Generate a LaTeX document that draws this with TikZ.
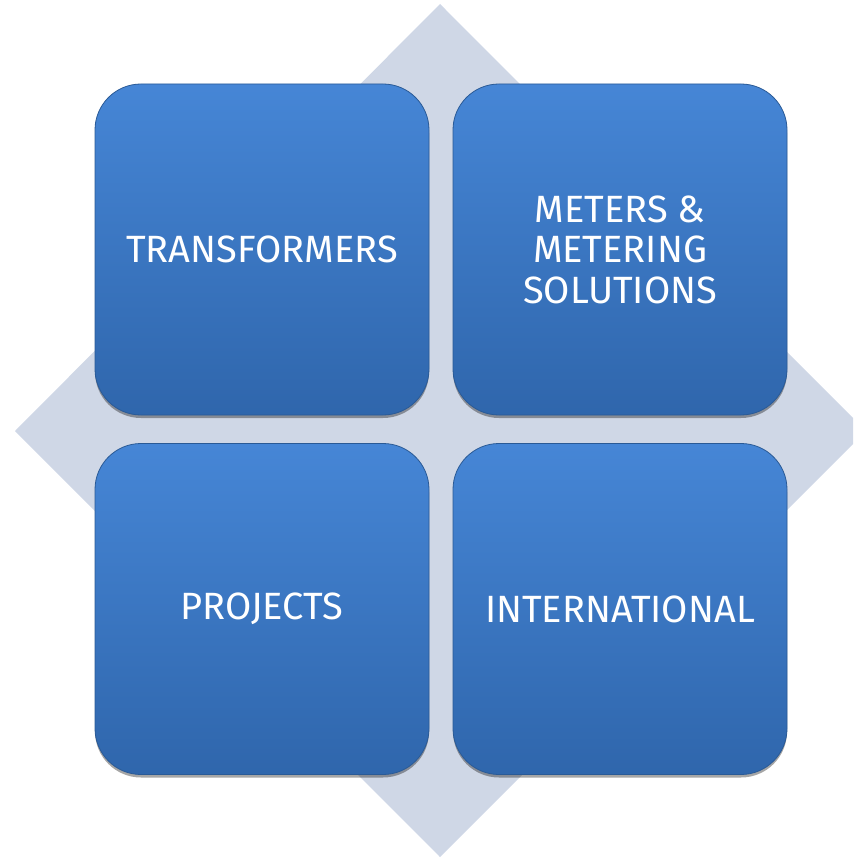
\documentclass[tikz,border=0pt]{standalone}
\usepackage{fontspec}
\setmainfont{Fira Sans}
\usetikzlibrary{shadows}

\definecolor{diamondgray}{HTML}{CFD7E6}
\definecolor{boxtop}{HTML}{4686D6}
\definecolor{boxbottom}{HTML}{2F66AC}
\definecolor{boxedge}{HTML}{2A5A96}

\tikzset{
  sector/.style={rectangle,rounded corners=46pt,
    minimum width=334pt,minimum height=331pt,
    top color=boxtop,bottom color=boxbottom,draw=boxedge,line width=0.8pt,
    drop shadow={shadow xshift=0pt,shadow yshift=-3pt,fill=black,opacity=0.35},
    text=white,align=center,
    font=\fontsize{38}{40.5}\selectfont}
}

\begin{document}
\begin{tikzpicture}[x=1pt,y=-1pt]

      \useasboundingbox (0,0) rectangle (853,858);
      \clip (0,0) rectangle (853,858);

      % background diamond
      \fill[diamondgray] (440,4) -- (866,431) -- (440,857) -- (15,431) -- cycle;

      \begin{scope}[every node/.style={sector}]
        \node (trans) at (262,249.5) {TRANSFORMERS};
        \node (meter) at (620,249.5) {METERS \&\\METERING\\SOLUTIONS};
        \node (proj)  at (262,609)   {PROJECTS};
        \node (intl)  at (620,609)   {INTERNATIONAL};
      \end{scope}

    \end{tikzpicture}
\end{document}
